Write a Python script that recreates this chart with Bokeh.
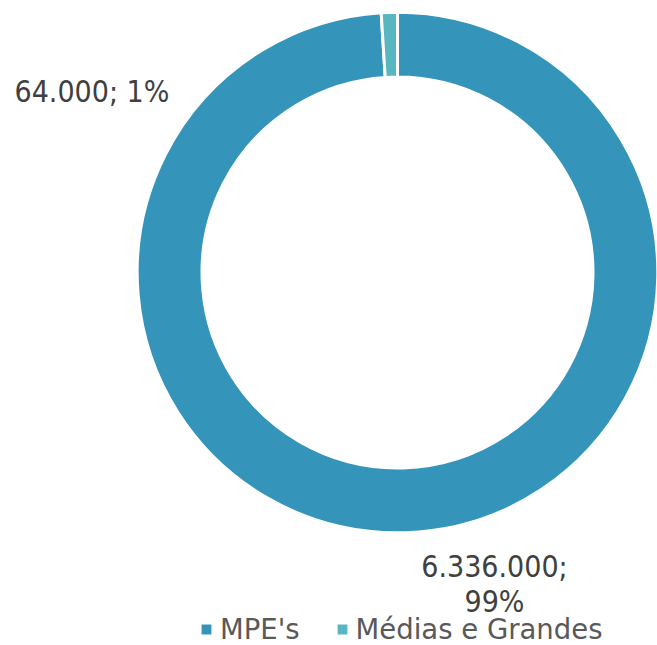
import math
from bokeh.plotting import figure
from bokeh.models import ColumnDataSource, Range1d
from bokeh.core.properties import value
from bokeh.embed import file_html
from bokeh.resources import INLINE

# ---- data ----
categories = ["MPE's", "Médias e Grandes"]
companies = [6336000, 64000]
colors = ["#3494BA", "#58B6C0"]

# ---- derived ----
total = sum(companies)
shares = [v / total for v in companies]
starts, ends = [], []
a = math.pi / 2
for s in shares:
    starts.append(a)
    a -= s * 2 * math.pi
    ends.append(a)


def fmt(v):
    return f"{v:,}".replace(",", ".")


# data-label lines (the large slice's label wraps onto two lines)
label_lines = [
    [f"{fmt(companies[0])};", f"{round(shares[0] * 100)}%"],
    [f"{fmt(companies[1])}; {round(shares[1] * 100)}%"],
]

# ---- layout (pixels; y measured from bottom) ----
FONT = "DejaVu Sans Condensed"
LEGEND_FONT = "DejaVu Sans"
W, H = 657, 645
CX, CY = 397, 373
R_OUT, R_IN = 260.3, 195.5
anchors = [(494, 43.8, "center"), (14, 554.5, "left")]  # anchor = last line's baseline
LINE_STEP = 35.7

txt, tx, ty, tal = [], [], [], []
for lines, (ax, ay, al) in zip(label_lines, anchors):
    n = len(lines)
    for i, line in enumerate(lines):
        txt.append(line)
        tx.append(ax)
        ty.append(ay + (n - 1 - i) * LINE_STEP)
        tal.append(al)

src = ColumnDataSource(dict(cat=categories, val=companies, color=colors,
                            start=starts, end=ends))
lab_src = ColumnDataSource(dict(text=txt, x=tx, y=ty, align=tal))

p = figure(width=W, height=H, output_backend="svg", toolbar_location=None,
           x_range=Range1d(0, W), y_range=Range1d(0, H), min_border=0,
           outline_line_color=None, background_fill_color="white",
           border_fill_color="white")
p.axis.visible = False
p.grid.visible = False

p.annular_wedge(x=CX, y=CY, inner_radius=R_IN, outer_radius=R_OUT,
                start_angle="start", end_angle="end", direction="clock",
                fill_color="color", line_color="white", line_width=3,
                source=src, legend_field="cat")

p.text(x="x", y="y", text="text", text_align="align", text_baseline="alphabetic",
       text_font=value(FONT), text_font_size="30px", text_color="#404040",
       source=lab_src)

lg = p.legend[0]
lg.orientation = "horizontal"
lg.location = (198, 0)
lg.border_line_color = None
lg.background_fill_alpha = 0
lg.padding = 0
lg.margin = 0
lg.spacing = 34
lg.glyph_width = 16
lg.glyph_height = 16
lg.label_standoff = 6
lg.label_text_font = LEGEND_FONT
lg.label_text_font_size = "27.5px"
lg.label_text_color = "#595959"

open("out.html", "w").write(file_html(p, INLINE))
